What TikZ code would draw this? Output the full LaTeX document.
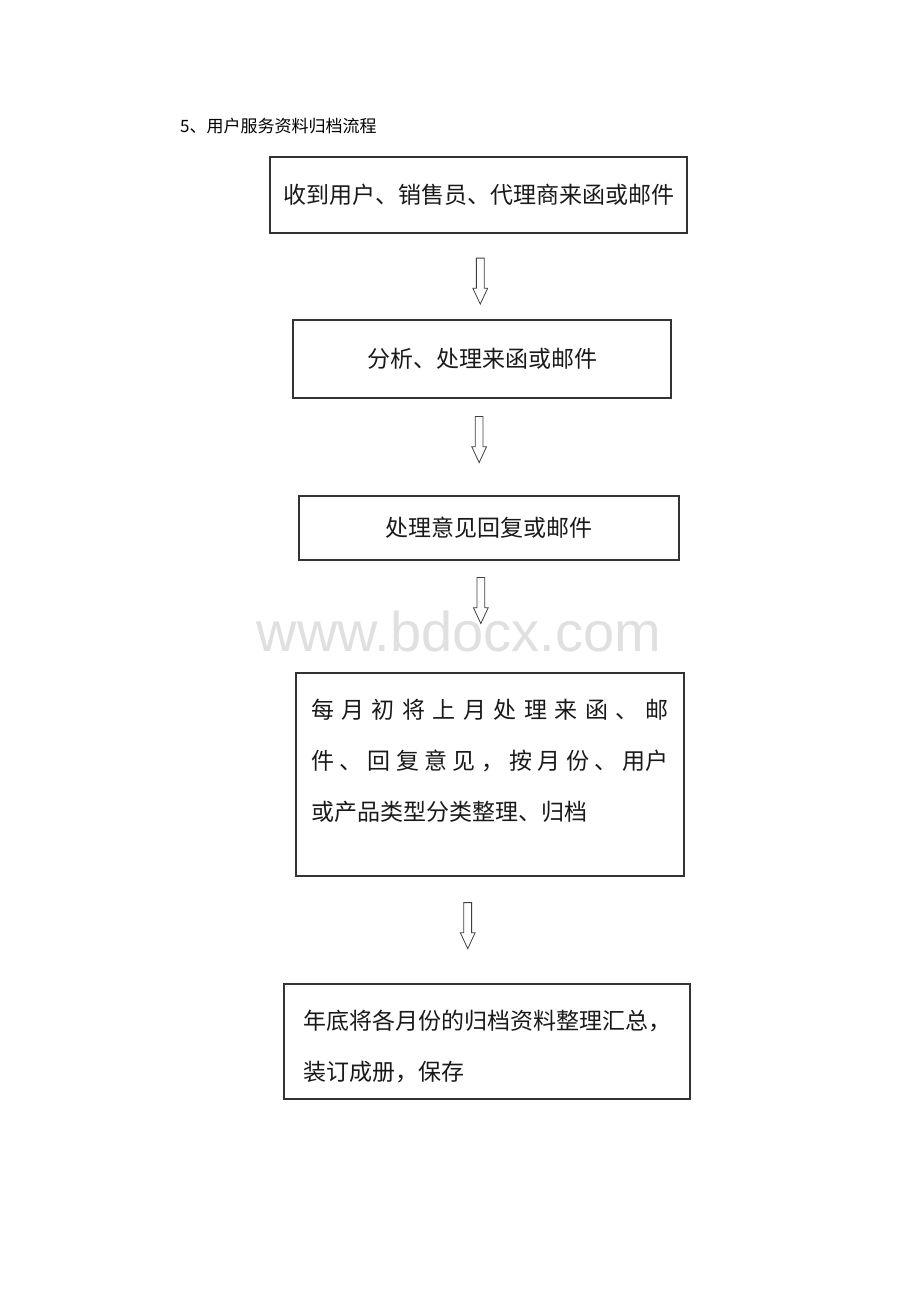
\documentclass[tikz,border=0pt]{standalone}
\usepackage{fontspec}
\setmainfont{Liberation Sans}
\newfontfamily\cjk{Noto Sans CJK SC}
\usepackage{tikz}
\usetikzlibrary{shapes.arrows}

\tikzset{
  stepbox/.style={draw=black!80, line width=1.1pt, inner sep=0pt,
    font=\cjk\fontsize{23}{51}\selectfont, text=black!90},
  downarrow/.style={single arrow, draw=black!75, line width=0.8pt, fill=white,
    rotate=-90, inner sep=3.5pt, minimum height=46pt,
    single arrow head extend=3.5pt, single arrow tip angle=50},
}

\begin{document}
\begin{tikzpicture}[x=1pt,y=-1pt]
        \useasboundingbox (0,0) rectangle (920,1302);
        
        % Title and watermark
        \node[anchor=west, inner sep=0pt, font=\cjk\fontsize{17}{19}\selectfont] (title) at (180,126) {5、用户服务资料归档流程};
        \node[font=\fontsize{56}{60}\selectfont, text=black!12] (mark) at (459,631) {www.bdocx.com};
        
        % Steps
        \node[stepbox, minimum width=417pt, minimum height=76pt] (receive) at (478.5,195) {收到用户、销售员、代理商来函或邮件};
        \node[stepbox, minimum width=378pt, minimum height=78pt] (analyse) at (482,359) {分析、处理来函或邮件};
        \node[stepbox, minimum width=380pt, minimum height=64pt] (reply) at (489,528) {处理意见回复或邮件};
        \node[stepbox, minimum width=388pt, minimum height=203pt] (monthly) at (490,774.5)
            {\parbox[c][203pt][t]{358pt}{\vspace*{26pt}%
             \hbox to 358pt{每\hfill 月\hfill 初\hfill 将\hfill 上\hfill 月\hfill 处\hfill 理\hfill 来\hfill 函\hfill 、\hfill 邮}
             \hbox to 358pt{件\hfill 、\hfill 回\hfill 复\hfill 意\hfill 见\hfill ，\hfill 按\hfill 月\hfill 份\hfill 、\hfill 用户}
             \hbox{或产品类型分类整理、归档}}};
        \node[stepbox, minimum width=406pt, minimum height=115pt] (yearly) at (487,1041.5)
            {\parbox[c][115pt][t]{378pt}{\vspace*{26pt}%
             \hbox{年底将各月份的归档资料整理汇总，}
             \hbox{装订成册，保存}}};
        
        % Hollow arrows between steps
        \path (receive.south) -- (analyse.north) node[xshift=0pt, downarrow, pos=0.505] (a1) {};
        \path (analyse.south) -- (reply.north) node[xshift=-5.5pt, downarrow, pos=0.38] (a2) {};
        \path (reply.south) -- (monthly.north) node[xshift=-8.5pt, downarrow, pos=0.32] (a3) {};
        \path (monthly.south) -- (yearly.north) node[xshift=-21pt, downarrow, pos=0.42] (a4) {};
        
    \end{tikzpicture}
\end{document}
